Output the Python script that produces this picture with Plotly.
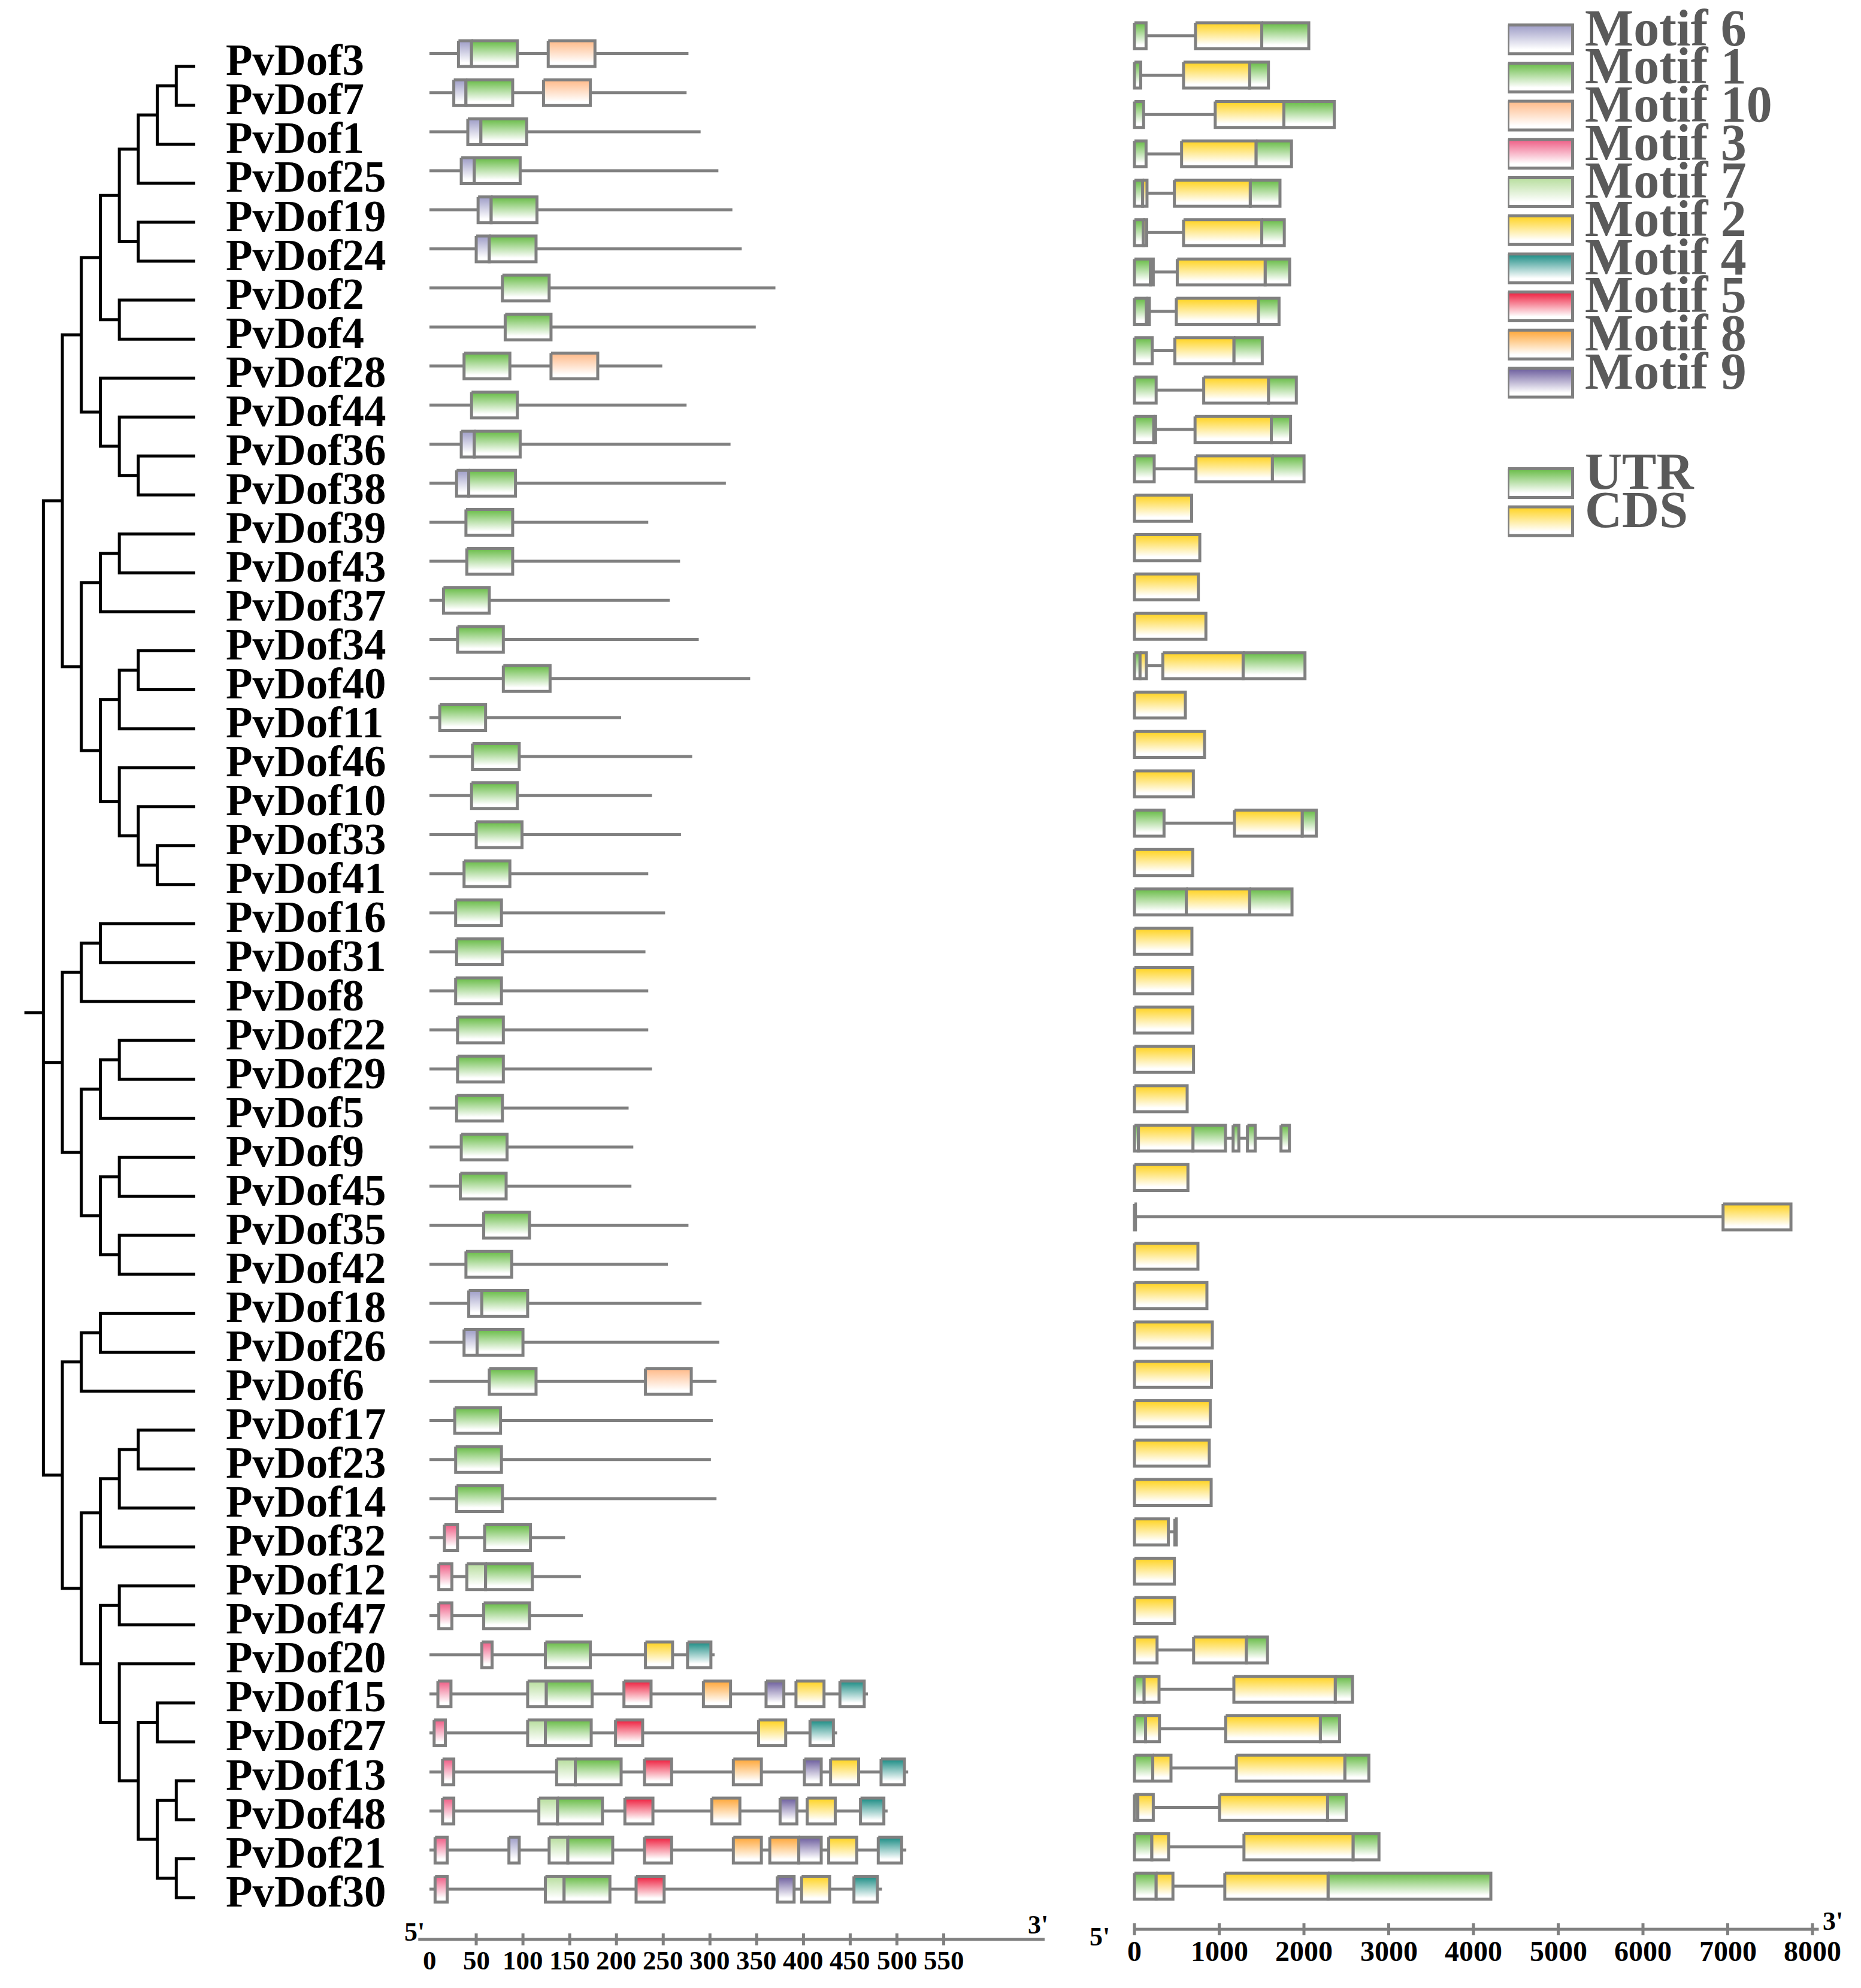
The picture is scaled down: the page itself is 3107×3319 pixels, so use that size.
import plotly.graph_objects as go

W, H = 3107, 3319
OFF = 8  # the page body margin that sits before the plot div
GREY = "#808080"
FONT = "Liberation Serif"

# phylogenetic tree, internal node labels = depth level counted from the tips
tree_newick = (
    "("
    "(("
    "(((((PvDof3,PvDof7)1,PvDof1)2,PvDof25)3,(PvDof19,PvDof24)3)4,(PvDof2,PvDof4)4)5,"
    "(PvDof28,(PvDof44,(PvDof36,PvDof38)3)4)5"
    ")6,("
    "((PvDof39,PvDof43)4,PvDof37)5,"
    "(((PvDof34,PvDof40)3,PvDof11)4,(PvDof46,(PvDof10,(PvDof33,PvDof41)2)3)4)5"
    ")6)7,"
    "("
    "((PvDof16,PvDof31)5,PvDof8)6,"
    "(((PvDof22,PvDof29)4,PvDof5)5,((PvDof9,PvDof45)4,(PvDof35,PvDof42)4)5)6"
    ")7,"
    "("
    "((PvDof18,PvDof26)5,PvDof6)6,("
    "(((PvDof17,PvDof23)3,PvDof14)4,PvDof32)5,"
    "((PvDof12,PvDof47)4,(PvDof20,((PvDof15,PvDof27)2,((PvDof13,PvDof48)1,(PvDof21,PvDof30)1)2)3)4)5"
    ")6)7"
    ")8;"
)

# protein length (aa), in tree order
genes = ["PvDof3", "PvDof7", "PvDof1", "PvDof25", "PvDof19", "PvDof24", "PvDof2", "PvDof4",
         "PvDof28", "PvDof44", "PvDof36", "PvDof38", "PvDof39", "PvDof43", "PvDof37", "PvDof34",
         "PvDof40", "PvDof11", "PvDof46", "PvDof10", "PvDof33", "PvDof41", "PvDof16", "PvDof31",
         "PvDof8", "PvDof22", "PvDof29", "PvDof5", "PvDof9", "PvDof45", "PvDof35", "PvDof42",
         "PvDof18", "PvDof26", "PvDof6", "PvDof17", "PvDof23", "PvDof14", "PvDof32", "PvDof12",
         "PvDof47", "PvDof20", "PvDof15", "PvDof27", "PvDof13", "PvDof48", "PvDof21", "PvDof30"]
protein_length = [277, 275, 290, 309, 324, 334, 370, 349, 249, 275, 322, 317, 234, 268, 257, 288,
                  343, 205, 281, 238, 269, 234, 252, 231, 234, 234, 238, 213, 218, 216, 277, 255,
                  291, 310, 307, 303, 301, 307, 145, 162, 164, 305, 469, 436, 512, 490, 510, 484]

motif_ids = [6, 1, 10, 3, 7, 2, 4, 5, 8, 9]
motif_colors = ["#9d9cc6", "#66bb44", "#ffb987", "#ef5b84", "#b6dd9c",
                "#ffd21c", "#178a82", "#ee1b3b", "#ffa535", "#6a5b9c"]

# (gene, motif, start, end) in aa
motif_sites = [
    ("PvDof3", 6, 31, 45), ("PvDof3", 1, 45, 94), ("PvDof3", 10, 127, 177),
    ("PvDof7", 6, 26, 39), ("PvDof7", 1, 39, 89), ("PvDof7", 10, 122, 172),
    ("PvDof1", 6, 41, 55), ("PvDof1", 1, 55, 104),
    ("PvDof25", 6, 34, 48), ("PvDof25", 1, 48, 97),
    ("PvDof19", 6, 52, 66), ("PvDof19", 1, 66, 115),
    ("PvDof24", 6, 50, 64), ("PvDof24", 1, 64, 114),
    ("PvDof2", 1, 78, 128),
    ("PvDof4", 1, 81, 130),
    ("PvDof28", 1, 37, 86), ("PvDof28", 10, 130, 180),
    ("PvDof44", 1, 45, 94),
    ("PvDof36", 6, 34, 48), ("PvDof36", 1, 48, 97),
    ("PvDof38", 6, 29, 42), ("PvDof38", 1, 42, 92),
    ("PvDof39", 1, 39, 89),
    ("PvDof43", 1, 40, 89),
    ("PvDof37", 1, 15, 64),
    ("PvDof34", 1, 30, 79),
    ("PvDof40", 1, 79, 129),
    ("PvDof11", 1, 11, 60),
    ("PvDof46", 1, 46, 96),
    ("PvDof10", 1, 45, 94),
    ("PvDof33", 1, 50, 99),
    ("PvDof41", 1, 37, 86),
    ("PvDof16", 1, 28, 77),
    ("PvDof31", 1, 29, 78),
    ("PvDof8", 1, 28, 77),
    ("PvDof22", 1, 30, 79),
    ("PvDof29", 1, 30, 79),
    ("PvDof5", 1, 29, 78),
    ("PvDof9", 1, 34, 83),
    ("PvDof45", 1, 33, 82),
    ("PvDof35", 1, 58, 107),
    ("PvDof42", 1, 39, 88),
    ("PvDof18", 6, 42, 56), ("PvDof18", 1, 56, 105),
    ("PvDof26", 6, 37, 51), ("PvDof26", 1, 51, 100),
    ("PvDof6", 1, 64, 114), ("PvDof6", 10, 231, 280),
    ("PvDof17", 1, 27, 76),
    ("PvDof23", 1, 28, 77),
    ("PvDof14", 1, 29, 78),
    ("PvDof32", 3, 16, 30), ("PvDof32", 1, 59, 108),
    ("PvDof12", 3, 10, 24), ("PvDof12", 7, 40, 60), ("PvDof12", 1, 60, 110),
    ("PvDof47", 3, 10, 24), ("PvDof47", 1, 58, 107),
    ("PvDof20", 3, 56, 67), ("PvDof20", 1, 124, 172), ("PvDof20", 2, 231, 260), ("PvDof20", 4, 276, 301),
    ("PvDof15", 3, 9, 23), ("PvDof15", 7, 105, 125), ("PvDof15", 1, 125, 174), ("PvDof15", 5, 208, 237),
    ("PvDof15", 8, 293, 322), ("PvDof15", 9, 360, 379), ("PvDof15", 2, 392, 422), ("PvDof15", 4, 439, 465),
    ("PvDof27", 3, 5, 17), ("PvDof27", 7, 105, 124), ("PvDof27", 1, 124, 173), ("PvDof27", 5, 199, 228),
    ("PvDof27", 2, 352, 381), ("PvDof27", 4, 407, 432),
    ("PvDof13", 3, 14, 26), ("PvDof13", 7, 136, 156), ("PvDof13", 1, 156, 205), ("PvDof13", 5, 230, 259),
    ("PvDof13", 8, 325, 355), ("PvDof13", 9, 401, 419), ("PvDof13", 2, 429, 459), ("PvDof13", 4, 483, 508),
    ("PvDof48", 3, 14, 26), ("PvDof48", 7, 117, 137), ("PvDof48", 1, 137, 185), ("PvDof48", 5, 209, 239),
    ("PvDof48", 8, 302, 332), ("PvDof48", 9, 375, 393), ("PvDof48", 2, 404, 434), ("PvDof48", 4, 461, 486),
    ("PvDof21", 3, 6, 19), ("PvDof21", 6, 85, 96), ("PvDof21", 7, 128, 148), ("PvDof21", 1, 148, 196),
    ("PvDof21", 5, 230, 259), ("PvDof21", 8, 325, 355), ("PvDof21", 8, 364, 395), ("PvDof21", 9, 395, 419),
    ("PvDof21", 2, 427, 457), ("PvDof21", 4, 480, 505),
    ("PvDof30", 3, 6, 19), ("PvDof30", 7, 124, 144), ("PvDof30", 1, 144, 193), ("PvDof30", 5, 221, 251),
    ("PvDof30", 9, 372, 390), ("PvDof30", 2, 398, 428), ("PvDof30", 4, 454, 479),
]

part_colors = {"UTR": "#66bb44", "CDS": "#ffd21c"}

# (gene, part, start, end) in bp
gene_parts = [
    ("PvDof3", "UTR", 0, 137), ("PvDof3", "CDS", 720, 1502), ("PvDof3", "UTR", 1502, 2057),
    ("PvDof7", "UTR", 0, 74), ("PvDof7", "CDS", 579, 1360), ("PvDof7", "UTR", 1360, 1581),
    ("PvDof1", "UTR", 0, 108), ("PvDof1", "CDS", 953, 1763), ("PvDof1", "UTR", 1763, 2358),
    ("PvDof25", "UTR", 0, 137), ("PvDof25", "CDS", 556, 1434), ("PvDof25", "UTR", 1434, 1853),
    ("PvDof19", "UTR", 0, 97), ("PvDof19", "CDS", 97, 148), ("PvDof19", "CDS", 471, 1366), ("PvDof19", "UTR", 1366, 1717),
    ("PvDof24", "UTR", 0, 105), ("PvDof24", "CDS", 105, 145), ("PvDof24", "CDS", 579, 1502), ("PvDof24", "UTR", 1502, 1768),
    ("PvDof2", "UTR", 0, 188), ("PvDof2", "CDS", 188, 222), ("PvDof2", "CDS", 505, 1542), ("PvDof2", "UTR", 1542, 1831),
    ("PvDof4", "UTR", 0, 142), ("PvDof4", "CDS", 142, 176), ("PvDof4", "CDS", 494, 1462), ("PvDof4", "UTR", 1462, 1706),
    ("PvDof28", "UTR", 0, 210), ("PvDof28", "CDS", 477, 1173), ("PvDof28", "UTR", 1173, 1508),
    ("PvDof44", "UTR", 0, 256), ("PvDof44", "CDS", 817, 1581), ("PvDof44", "UTR", 1581, 1910),
    ("PvDof36", "UTR", 0, 228), ("PvDof36", "CDS", 228, 250), ("PvDof36", "CDS", 715, 1615), ("PvDof36", "UTR", 1615, 1842),
    ("PvDof38", "UTR", 0, 233), ("PvDof38", "CDS", 726, 1627), ("PvDof38", "UTR", 1627, 2001),
    ("PvDof39", "CDS", 0, 675),
    ("PvDof43", "CDS", 0, 771),
    ("PvDof37", "CDS", 0, 754),
    ("PvDof34", "CDS", 0, 843),
    ("PvDof40", "UTR", 0, 66), ("PvDof40", "CDS", 66, 141), ("PvDof40", "CDS", 335, 1282), ("PvDof40", "UTR", 1282, 2012),
    ("PvDof11", "CDS", 0, 601),
    ("PvDof46", "CDS", 0, 827),
    ("PvDof10", "CDS", 0, 695),
    ("PvDof33", "UTR", 0, 349), ("PvDof33", "CDS", 1180, 1979), ("PvDof33", "UTR", 1979, 2146),
    ("PvDof41", "CDS", 0, 688),
    ("PvDof16", "UTR", 0, 612), ("PvDof16", "CDS", 612, 1359), ("PvDof16", "UTR", 1359, 1859),
    ("PvDof31", "CDS", 0, 678),
    ("PvDof8", "CDS", 0, 688),
    ("PvDof22", "CDS", 0, 688),
    ("PvDof29", "CDS", 0, 697),
    ("PvDof5", "CDS", 0, 622),
    ("PvDof9", "UTR", 0, 47), ("PvDof9", "CDS", 47, 690), ("PvDof9", "UTR", 690, 1074),
    ("PvDof9", "UTR", 1164, 1232), ("PvDof9", "UTR", 1333, 1425), ("PvDof9", "UTR", 1729, 1828),
    ("PvDof45", "CDS", 0, 631),
    ("PvDof35", "UTR", 0, 12), ("PvDof35", "CDS", 6945, 7746),
    ("PvDof42", "CDS", 0, 749),
    ("PvDof18", "CDS", 0, 855),
    ("PvDof26", "CDS", 0, 919),
    ("PvDof6", "CDS", 0, 909),
    ("PvDof17", "CDS", 0, 895),
    ("PvDof23", "CDS", 0, 883),
    ("PvDof14", "CDS", 0, 905),
    ("PvDof32", "CDS", 0, 400), ("PvDof32", "CDS", 477, 494),
    ("PvDof12", "CDS", 0, 471),
    ("PvDof47", "CDS", 0, 474),
    ("PvDof20", "CDS", 0, 267), ("PvDof20", "CDS", 698, 1321), ("PvDof20", "UTR", 1321, 1570),
    ("PvDof15", "UTR", 0, 114), ("PvDof15", "CDS", 114, 290), ("PvDof15", "CDS", 1173, 2369), ("PvDof15", "UTR", 2369, 2573),
    ("PvDof27", "UTR", 0, 131), ("PvDof27", "CDS", 131, 295), ("PvDof27", "CDS", 1077, 2193), ("PvDof27", "UTR", 2193, 2420),
    ("PvDof13", "UTR", 0, 216), ("PvDof13", "CDS", 216, 431), ("PvDof13", "CDS", 1202, 2482), ("PvDof13", "UTR", 2482, 2766),
    ("PvDof48", "UTR", 0, 40), ("PvDof48", "CDS", 40, 222), ("PvDof48", "CDS", 1004, 2278), ("PvDof48", "UTR", 2278, 2499),
    ("PvDof21", "UTR", 0, 205), ("PvDof21", "CDS", 205, 403), ("PvDof21", "CDS", 1292, 2579), ("PvDof21", "UTR", 2579, 2885),
    ("PvDof30", "UTR", 0, 256), ("PvDof30", "CDS", 256, 454), ("PvDof30", "CDS", 1066, 2284), ("PvDof30", "UTR", 2284, 4205),
]

motif_ticks = [0, 50, 100, 150, 200, 250, 300, 350, 400, 450, 500, 550]
exon_ticks = [0, 1000, 2000, 3000, 4000, 5000, 6000, 7000, 8000]

# ---------------- pixel layout of the panels (page px) ----------------
TREE_TIP_PX, TREE_STEP_PX = 326, 31.7
TREE_ROW0_PX, TREE_ROW_PX = 110.8, 65.05
MOT_X0_PX, MOT_PX_PER_AA = 717, 1.561
MOT_ROW0_PX, MOT_ROW_PX = 89.5, 65.2
EX_X0_PX, EX_PX_PER_BP = 1894, 0.1415
EX_ROW0_PX, EX_ROW_PX = 59.7, 65.73
LEG_X0_PX, LEG_BOX_PX = 2517.5, 108
LEG_ROW0_PX, LEG_ROW_PX = 65.7, 63.7


def dom(px0, px1):
    return [max(0, (px0 - OFF) / W), min(1, (px1 - OFF) / W)]


def yrange(row0, step):
    # figure spans page px OFF .. OFF + H
    return [(OFF + H - row0) / step, (OFF - row0) / step]


def xrange_lin(px0, px1, origin, scale):
    return [(px0 - origin) / scale, (px1 - origin) / scale]


# ---------------- parse the tree ----------------
def parse(s, i=0):
    if s[i] == "(":
        kids = []
        i += 1
        while True:
            node, i = parse(s, i)
            kids.append(node)
            if s[i] == ",":
                i += 1
                continue
            i += 1
            break
        j = i
        while s[j].isdigit():
            j += 1
        return {"kids": kids, "level": int(s[i:j])}, j
    j = i
    while s[j] not in ",);":
        j += 1
    return {"name": s[i:j], "level": 0}, j


root, _ = parse(tree_newick)
leaf_order = []


def place(node):
    if "name" in node:
        node["y"] = len(leaf_order)
        leaf_order.append(node["name"])
    else:
        for k in node["kids"]:
            place(k)
        node["y"] = sum(k["y"] for k in node["kids"]) / len(node["kids"])


place(root)
assert leaf_order == genes

tx, ty = [], []


def draw(node):
    if "name" in node:
        return
    kids = node["kids"]
    a, b = kids[0], kids[-1]
    tx.extend([a["level"], node["level"], node["level"], b["level"], None])
    ty.extend([a["y"], a["y"], b["y"], b["y"], None])
    for k in kids[1:-1]:
        tx.extend([node["level"], k["level"], None])
        ty.extend([k["y"], k["y"], None])
    for k in kids:
        draw(k)


draw(root)
tx.extend([root["level"], root["level"] + 1, None])
ty.extend([root["y"], root["y"], None])

fig = go.Figure()
fig.add_trace(go.Scatter(x=tx, y=ty, mode="lines", line=dict(color="black", width=5),
                         xaxis="x", yaxis="y", hoverinfo="skip", showlegend=False))


def box_traces(items, xref, yref, half):
    groups = {}
    for row, a, b, col in items:
        groups.setdefault((row, col), []).append((a, b))
    out = []
    for (row, col), spans in groups.items():
        xs, ys = [], []
        for a, b in spans:
            xs += [a, b, b, a, a, None]
            ys += [row - half, row - half, row + half, row + half, row - half, None]
        out.append(go.Scatter(
            x=xs, y=ys, xaxis=xref, yaxis=yref, mode="lines", fill="toself",
            line=dict(color=GREY, width=5),
            fillgradient=dict(type="vertical", start=row + half, stop=row - half,
                              colorscale=[[0, "#ffffff"], [0.15, "#ffffff"], [1, col]]),
            hoverinfo="skip", showlegend=False))
    return out


row_of = {g: i for i, g in enumerate(genes)}
mcol = dict(zip(motif_ids, motif_colors))

# protein lines + motifs
lx, ly = [], []
for g, L in zip(genes, protein_length):
    lx += [0, L, None]
    ly += [row_of[g], row_of[g], None]
fig.add_trace(go.Scatter(x=lx, y=ly, mode="lines", line=dict(color=GREY, width=5),
                         xaxis="x2", yaxis="y2", hoverinfo="skip", showlegend=False))
fig.add_traces(box_traces([(row_of[g], a, b, mcol[m]) for g, m, a, b in motif_sites], "x2", "y2", 0.33))

# gene lines + exons
gene_end = {}
for g, p, a, b in gene_parts:
    gene_end[g] = max(gene_end.get(g, 0), b)
ex, ey = [], []
for g in genes:
    ex += [0, gene_end[g], None]
    ey += [row_of[g], row_of[g], None]
fig.add_trace(go.Scatter(x=ex, y=ey, mode="lines", line=dict(color=GREY, width=5),
                         xaxis="x3", yaxis="y3", hoverinfo="skip", showlegend=False))
fig.add_traces(box_traces([(row_of[g], a, b, part_colors[p]) for g, p, a, b in gene_parts], "x3", "y3", 0.33))

# legend
leg_names = ["Motif %d" % m for m in motif_ids] + list(part_colors)
leg_cols = motif_colors + list(part_colors.values())
leg_rows = list(range(len(motif_ids))) + [len(motif_ids) + 1.63 + k for k in range(len(part_colors))]
fig.add_traces(box_traces([(r, 0, 1, c) for r, c in zip(leg_rows, leg_cols)], "x4", "y4", 0.377))

ann = []
for g in genes:
    ann.append(dict(x=(TREE_TIP_PX - 375) / TREE_STEP_PX, y=row_of[g], xref="x", yref="y", text=g,
                    showarrow=False, xanchor="left", yanchor="middle", yshift=10,
                    font=dict(family=FONT, size=73, color="black", weight="bold")))
for n, r in zip(leg_names, leg_rows):
    ann.append(dict(x=(2644 - LEG_X0_PX) / LEG_BOX_PX, y=r - 0.3, xref="x4", yref="y4", text=n,
                    showarrow=False, xanchor="left", yanchor="middle",
                    font=dict(family=FONT, size=86, color="#5a5a5a", weight="bold")))

# scale bars
mot_axis_row = (3237.7 - MOT_ROW0_PX) / MOT_ROW_PX
tick_half = 10 / MOT_ROW_PX
sx, sy = [-12, 658, None], [mot_axis_row, mot_axis_row, None]
for t in motif_ticks[1:]:
    sx += [t, t, None]
    sy += [mot_axis_row - tick_half, mot_axis_row + tick_half, None]
fig.add_trace(go.Scatter(x=sx, y=sy, mode="lines", line=dict(color=GREY, width=5),
                         xaxis="x2", yaxis="y2", hoverinfo="skip", showlegend=False))
for t in motif_ticks:
    ann.append(dict(x=t, y=(3272.5 - MOT_ROW0_PX) / MOT_ROW_PX, xref="x2", yref="y2", text=str(t),
                    showarrow=False, font=dict(family=FONT, size=45, color="black", weight="bold")))
ann.append(dict(x=(692 - MOT_X0_PX) / MOT_PX_PER_AA, y=(3225 - MOT_ROW0_PX) / MOT_ROW_PX, xref="x2", yref="y2",
                text="5'", showarrow=False, font=dict(family=FONT, size=44, color="black", weight="bold")))
ann.append(dict(x=(1733 - MOT_X0_PX) / MOT_PX_PER_AA, y=(3213 - MOT_ROW0_PX) / MOT_ROW_PX, xref="x2", yref="y2",
                text="3'", showarrow=False, font=dict(family=FONT, size=44, color="black", weight="bold")))

ex_axis_row = (3221 - EX_ROW0_PX) / EX_ROW_PX
tick_half = 10 / EX_ROW_PX
sx, sy = [0, 8074, None], [ex_axis_row, ex_axis_row, None]
for t in exon_ticks:
    sx += [t, t, None]
    sy += [ex_axis_row - tick_half, ex_axis_row + tick_half, None]
fig.add_trace(go.Scatter(x=sx, y=sy, mode="lines", line=dict(color=GREY, width=5),
                         xaxis="x3", yaxis="y3", hoverinfo="skip", showlegend=False))
for t in exon_ticks:
    ann.append(dict(x=t, y=(3257 - EX_ROW0_PX) / EX_ROW_PX, xref="x3", yref="y3", text=str(t),
                    showarrow=False, font=dict(family=FONT, size=48, color="black", weight="bold")))
ann.append(dict(x=(1836 - EX_X0_PX) / EX_PX_PER_BP, y=(3233 - EX_ROW0_PX) / EX_ROW_PX, xref="x3", yref="y3",
                text="5'", showarrow=False, font=dict(family=FONT, size=44, color="black", weight="bold")))
ann.append(dict(x=(3060 - EX_X0_PX) / EX_PX_PER_BP, y=(3207 - EX_ROW0_PX) / EX_ROW_PX, xref="x3", yref="y3",
                text="3'", showarrow=False, font=dict(family=FONT, size=44, color="black", weight="bold")))

hid = dict(visible=False, fixedrange=True)
right_px = OFF + W
fig.update_layout(
    width=W, height=H, margin=dict(l=0, r=0, t=0, b=0), autosize=False,
    paper_bgcolor="white", plot_bgcolor="rgba(0,0,0,0)", showlegend=False,
    xaxis=dict(hid, domain=dom(OFF, 700),
               range=[(TREE_TIP_PX - OFF) / TREE_STEP_PX, (TREE_TIP_PX - 700) / TREE_STEP_PX], anchor="y"),
    yaxis=dict(hid, domain=[0, 1], range=yrange(TREE_ROW0_PX, TREE_ROW_PX), anchor="x"),
    xaxis2=dict(hid, domain=dom(690, 1800), range=xrange_lin(690, 1800, MOT_X0_PX, MOT_PX_PER_AA), anchor="y2"),
    yaxis2=dict(hid, domain=[0, 1], range=yrange(MOT_ROW0_PX, MOT_ROW_PX), anchor="x2"),
    xaxis3=dict(hid, domain=dom(1830, right_px), range=xrange_lin(1830, right_px, EX_X0_PX, EX_PX_PER_BP), anchor="y3"),
    yaxis3=dict(hid, domain=[0, 1], range=yrange(EX_ROW0_PX, EX_ROW_PX), anchor="x3"),
    xaxis4=dict(hid, domain=dom(LEG_X0_PX, right_px),
                range=[0, (right_px - LEG_X0_PX) / LEG_BOX_PX], anchor="y4"),
    yaxis4=dict(hid, domain=[0, 1], range=yrange(LEG_ROW0_PX, LEG_ROW_PX), anchor="x4"),
    annotations=ann,
)

fig.write_html("out.html")
